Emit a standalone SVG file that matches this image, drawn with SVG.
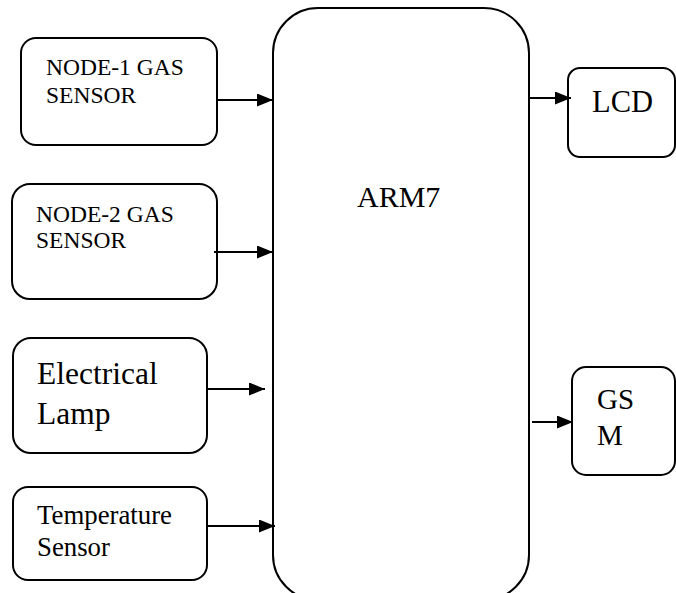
<svg xmlns="http://www.w3.org/2000/svg" width="676" height="593" viewBox="0 0 676 593">
<style>
.box{fill:#fff;stroke:#000;stroke-width:2}
.t{font-family:"Liberation Serif","Times New Roman",serif;fill:#000}
.c{stroke:#000;stroke-width:2;fill:none}
</style>
<defs>
<marker id="ah" viewBox="0 0 16 13" refX="16" refY="6.5" markerWidth="16" markerHeight="13" markerUnits="userSpaceOnUse" orient="auto">
<path d="M0,0 L16,6.5 L0,13 Z" fill="#000"/>
</marker>
</defs>
<rect width="676" height="593" fill="#fff"/>
<g id="arm7">
<rect class="box" x="273" y="8" width="256" height="592" rx="45" ry="45"/>
<text class="t" x="357" y="207" font-size="30">ARM7</text>
</g>
<g id="node1">
<rect class="box" x="21" y="38" width="196" height="107" rx="15" ry="15"/>
<text class="t" x="46" y="75" font-size="23.5">NODE-1 GAS</text>
<text class="t" x="46" y="103" font-size="23.5">SENSOR</text>
</g>
<g id="node2">
<rect class="box" x="12" y="184" width="205" height="115" rx="18" ry="18"/>
<text class="t" x="36" y="222" font-size="23.5">NODE-2 GAS</text>
<text class="t" x="36" y="248" font-size="23.5">SENSOR</text>
</g>
<g id="lamp">
<rect class="box" x="13" y="338" width="194" height="115" rx="18" ry="18"/>
<text class="t" x="37" y="384" font-size="31.5">Electrical</text>
<text class="t" x="37" y="424" font-size="31.5">Lamp</text>
</g>
<g id="temp">
<rect class="box" x="13" y="487" width="194" height="93" rx="15" ry="15"/>
<text class="t" x="37" y="524" font-size="26.8">Temperature</text>
<text class="t" x="37" y="556" font-size="26.8">Sensor</text>
</g>
<g id="lcd">
<rect class="box" x="568" y="68" width="107" height="89" rx="12" ry="12"/>
<text class="t" x="592" y="112" font-size="30.5">LCD</text>
</g>
<g id="gsm">
<rect class="box" x="572" y="367" width="103" height="108" rx="14" ry="14"/>
<text class="t" x="597" y="409" font-size="29">GS</text>
<text class="t" x="597" y="445" font-size="29">M</text>
</g>
<g id="connectors">
<line class="c" x1="217" y1="100" x2="273" y2="100" marker-end="url(#ah)"/>
<line class="c" x1="214" y1="252" x2="273" y2="252" marker-end="url(#ah)"/>
<line class="c" x1="207" y1="389" x2="265" y2="389" marker-end="url(#ah)"/>
<line class="c" x1="207" y1="526" x2="275" y2="526" marker-end="url(#ah)"/>
<line class="c" x1="529" y1="98" x2="571" y2="98" marker-end="url(#ah)"/>
<line class="c" x1="532" y1="422" x2="573" y2="422" marker-end="url(#ah)"/>
</g>
</svg>
